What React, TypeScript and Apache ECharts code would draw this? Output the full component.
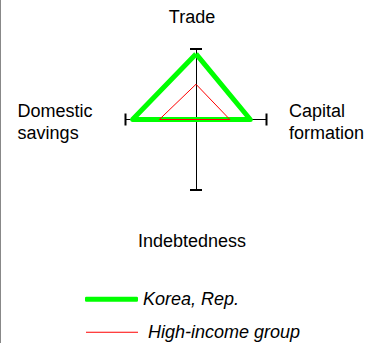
import React, { useEffect, useRef } from "react";
import * as echarts from "echarts";

const indicators = ["Trade", "Domestic savings", "Indebtedness", "Capital formation"];
const labelLines = [["Trade"], ["Domestic", "savings"], ["Indebtedness"], ["Capital", "formation"]];
const seriesNames = ["Korea, Rep.", "High-income group"];
const koreaValues = [0.93, 0.9, 0, 0.77];
const highIncomeValues = [0.5, 0.52, 0, 0.48];

const FONT = "'Liberation Sans', Arial, sans-serif";

export default function App() {
  const ref = useRef<HTMLDivElement>(null);
  useEffect(() => {
    if (!ref.current) return;
    const chart = echarts.init(ref.current, undefined, { renderer: "svg" });
    const labelPos = [
      { x: 192, y: 17, align: "center" },
      { x: 17.6, y: 121.8, align: "left" },
      { x: 192, y: 240.5, align: "center" },
      { x: 289, y: 121.8, align: "left" },
    ];
    chart.setOption({
      animation: false,
      radar: {
        center: [196, 119.5],
        radius: 70.5,
        startAngle: 90,
        splitNumber: 1,
        shape: "polygon",
        indicator: indicators.map((name) => ({ name, min: 0, max: 1 })),
        axisName: { show: false },
        axisLine: {
          show: true,
          symbol: ["none", "path://M0,0H12V2H0Z"],
          symbolSize: [12, 2],
          lineStyle: { color: "#000", width: 1 },
        },
        axisTick: { show: false },
        splitLine: { show: false },
        splitArea: { show: false },
        axisLabel: { show: false },
      },
      legend: [
        {
          data: [{ name: seriesNames[0], icon: "roundRect" }],
          left: 85,
          top: 290.3,
          padding: 0,
          itemWidth: 53,
          itemHeight: 5,
          textStyle: { fontFamily: FONT, fontSize: 18, fontStyle: "italic", color: "#000" },
        },
        {
          data: [{ name: seriesNames[1], icon: "rect" }],
          left: 86,
          top: 323.3,
          padding: 0,
          itemWidth: 52,
          itemHeight: 1,
          textStyle: { fontFamily: FONT, fontSize: 18, fontStyle: "italic", color: "#000", padding: [0, 0, 0, 5] },
        },
      ],
      series: [
        {
          type: "radar",
          symbol: "none",
          data: [
            {
              name: seriesNames[0],
              value: koreaValues,
              lineStyle: { color: "#00ff00", width: 5 },
              itemStyle: { color: "#00ff00" },
            },
            {
              name: seriesNames[1],
              value: highIncomeValues,
              lineStyle: { color: "#ff0000", width: 1 },
              itemStyle: { color: "#ff0000" },
            },
          ],
        },
      ],
      graphic: [
        {
          type: "line",
          shape: { x1: 0.5, y1: 0, x2: 0.5, y2: 343 },
          style: { stroke: "#888", lineWidth: 1 },
        },
        ...labelLines.map((lines, i) => ({
          type: "text",
          x: labelPos[i].x,
          y: labelPos[i].y,
          style: {
            text: lines.join("\n"),
            fontFamily: FONT,
            fontSize: 18,
            lineHeight: 22.6,
            fill: "#000",
            align: labelPos[i].align,
            verticalAlign: "middle",
          },
        })),
      ],
    });
    return () => chart.dispose();
  }, []);
  return (
    <div
      ref={ref}
      style={{ position: "fixed", left: 0, top: 0, width: 368, height: 343, background: "#fff" }}
    />
  );
}
